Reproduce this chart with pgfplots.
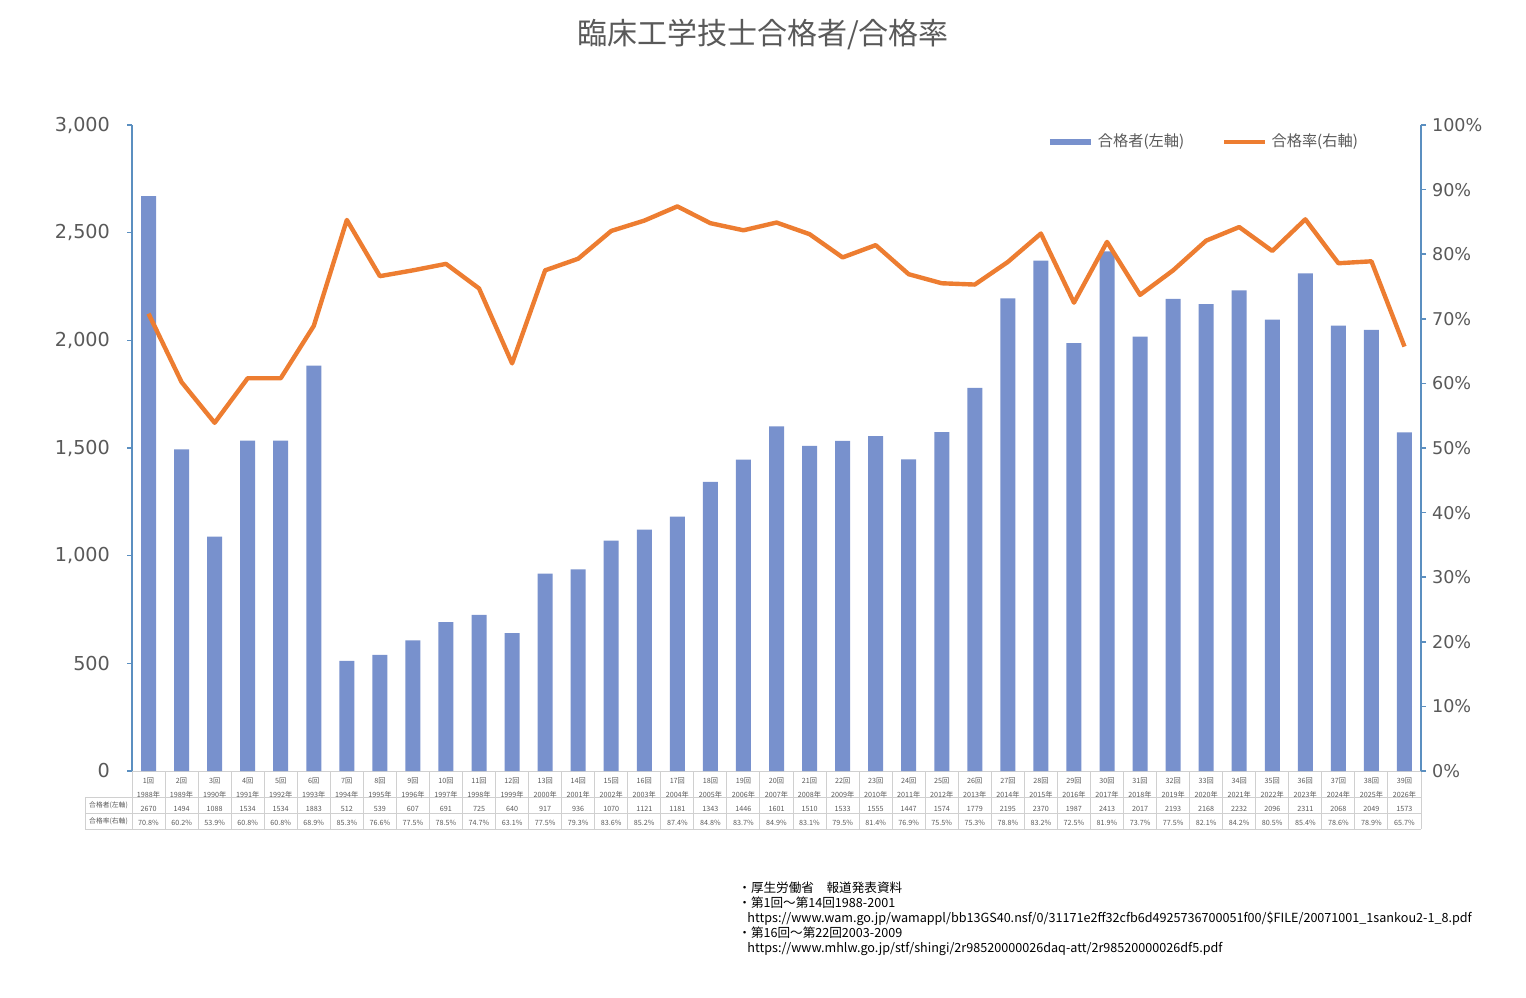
\documentclass[border=0pt]{standalone}
\usepackage{pgfplots}
\pgfplotsset{compat=1.18}
\usepackage{fontspec}
\setmainfont{Noto Sans CJK JP}
\newfontfamily\dejavu{DejaVu Sans}
\definecolor{barblue}{HTML}{7891CD}
\definecolor{lineorange}{HTML}{ED7D31}
\definecolor{axblue}{HTML}{5B8FC0}
\definecolor{txtgrey}{HTML}{595959}
\definecolor{gridgrey}{HTML}{D0D0D0}
\begin{document}
\begin{tikzpicture}
\useasboundingbox (0,0) rectangle (763pt,498.5pt);
% title
\node[font={\fontsize{15}{18}\selectfont}, text=txtgrey] at (381.5pt,481pt) {臨床工学技士合格者/合格率};
% table grid
\foreach \k in {0,...,39} {\draw[gridgrey, line width=0.5pt] (66pt+\k*16.5256pt,113pt) -- (66pt+\k*16.5256pt,84pt);}
\draw[gridgrey, line width=0.5pt] (42.5pt,100pt) -- (710.5pt,100pt);
\draw[gridgrey, line width=0.5pt] (42.5pt,92pt) -- (710.5pt,92pt);
\draw[gridgrey, line width=0.5pt] (42.5pt,84pt) -- (710.5pt,84pt);
\draw[gridgrey, line width=0.5pt] (42.5pt,100pt) -- (42.5pt,84pt);
\node[font={\fontsize{3.4}{4}\selectfont}, text=txtgrey] at (54.25pt,96pt) {合格者(左軸)};
\node[font={\fontsize{3.4}{4}\selectfont}, text=txtgrey] at (54.25pt,88pt) {合格率(右軸)};
% sources
\node[anchor=north west, align=left, inner sep=0pt, text=black, font={\fontsize{6.3}{7.5}\selectfont}] at (369pt,57.5pt) {%
・厚生労働省\quad 報道発表資料\\
・第1回〜第14回1988-2001\\
\hspace*{4.5pt}https://www.wam.go.jp/wamappl/bb13GS40.nsf/0/31171e2ff32cfb6d4925736700051f00/\$FILE/20071001\_1sankou2-1\_8.pdf\\
・第16回〜第22回2003-2009\\
\hspace*{4.5pt}https://www.mhlw.go.jp/stf/shingi/2r98520000026daq-att/2r98520000026df5.pdf};
\begin{axis}[
  at={(66pt,113pt)}, anchor=south west, scale only axis,
  width=644.5pt, height=323pt,
  xmin=-0.5, xmax=38.5, ymin=0, ymax=3000,
  axis y line*=left, axis x line*=bottom,
  x axis line style={draw=gridgrey, line width=0.5pt, -},
  y axis line style={draw=axblue, line width=0.75pt, -},
  ytick={0,500,...,3000},
  ytick style={draw=axblue, line width=0.75pt},
  tick align=outside, major tick length=2.5pt,
  xtick={0,...,38}, xtick style={draw=none},
  /pgf/number format/assume math mode=true,
  /pgf/number format/1000 sep={,},
  yticklabel style={font={\dejavu\fontsize{9.6}{11}\selectfont}, text=txtgrey, xshift=-5pt},
  xticklabel style={font={\fontsize{3.6}{7}\selectfont}, text=txtgrey, align=center, anchor=north, inner sep=0pt, yshift=-0.6pt},
  xticklabels={
{1回\\1988年\\2670\\70.8\%},{2回\\1989年\\1494\\60.2\%},{3回\\1990年\\1088\\53.9\%},{4回\\1991年\\1534\\60.8\%},{5回\\1992年\\1534\\60.8\%},{6回\\1993年\\1883\\68.9\%},{7回\\1994年\\512\\85.3\%},{8回\\1995年\\539\\76.6\%},{9回\\1996年\\607\\77.5\%},{10回\\1997年\\691\\78.5\%},{11回\\1998年\\725\\74.7\%},{12回\\1999年\\640\\63.1\%},{13回\\2000年\\917\\77.5\%},{14回\\2001年\\936\\79.3\%},{15回\\2002年\\1070\\83.6\%},{16回\\2003年\\1121\\85.2\%},{17回\\2004年\\1181\\87.4\%},{18回\\2005年\\1343\\84.8\%},{19回\\2006年\\1446\\83.7\%},{20回\\2007年\\1601\\84.9\%},{21回\\2008年\\1510\\83.1\%},{22回\\2009年\\1533\\79.5\%},{23回\\2010年\\1555\\81.4\%},{24回\\2011年\\1447\\76.9\%},{25回\\2012年\\1574\\75.5\%},{26回\\2013年\\1779\\75.3\%},{27回\\2014年\\2195\\78.8\%},{28回\\2015年\\2370\\83.2\%},{29回\\2016年\\1987\\72.5\%},{30回\\2017年\\2413\\81.9\%},{31回\\2018年\\2017\\73.7\%},{32回\\2019年\\2193\\77.5\%},{33回\\2020年\\2168\\82.1\%},{34回\\2021年\\2232\\84.2\%},{35回\\2022年\\2096\\80.5\%},{36回\\2023年\\2311\\85.4\%},{37回\\2024年\\2068\\78.6\%},{38回\\2025年\\2049\\78.9\%},{39回\\2026年\\1573\\65.7\%}},
  clip=false,
]
\addplot[ybar, bar width=7.5pt, bar shift=0pt, fill=barblue, draw=none] coordinates {
(0,2670)(1,1494)(2,1088)(3,1534)(4,1534)(5,1883)(6,512)(7,539)(8,607)(9,691)
(10,725)(11,640)(12,917)(13,936)(14,1070)(15,1121)(16,1181)(17,1343)(18,1446)(19,1601)
(20,1510)(21,1533)(22,1555)(23,1447)(24,1574)(25,1779)(26,2195)(27,2370)(28,1987)(29,2413)
(30,2017)(31,2193)(32,2168)(33,2232)(34,2096)(35,2311)(36,2068)(37,2049)(38,1573)};
\end{axis}
\begin{axis}[
  at={(66pt,113pt)}, anchor=south west, scale only axis,
  width=644.5pt, height=323pt,
  xmin=-0.5, xmax=38.5, ymin=0, ymax=100,
  axis y line*=right, axis x line=none,
  y axis line style={draw=axblue, line width=0.75pt, -},
  ytick={0,10,...,100},
  ytick style={draw=axblue, line width=0.75pt},
  tick align=outside, major tick length=2.5pt,
  /pgf/number format/assume math mode=true,
  yticklabel={\pgfmathprintnumber{\tick}\%},
  yticklabel style={font={\dejavu\fontsize{8.8}{11}\selectfont}, text=txtgrey, xshift=-0.5pt},
  legend style={at={(0.7095,0.974)}, anchor=west, draw=none, fill=none,
    font={\fontsize{7.6}{9}\selectfont}, text=txtgrey, inner sep=0pt,
    /tikz/every even column/.append style={column sep=17pt}},
  legend columns=2,
  legend image code/.code={\draw[#1] (0pt,0pt) -- (20.5pt,0pt);},
]
\addlegendimage{barblue, line width=3pt}
\addlegendentry{合格者(左軸)}
\addplot[lineorange, line width=2.2pt, line join=round, mark=none] coordinates {
(0,70.8)(1,60.2)(2,53.9)(3,60.8)(4,60.8)(5,68.9)(6,85.3)(7,76.6)(8,77.5)(9,78.5)
(10,74.7)(11,63.1)(12,77.5)(13,79.3)(14,83.6)(15,85.2)(16,87.4)(17,84.8)(18,83.7)(19,84.9)
(20,83.1)(21,79.5)(22,81.4)(23,76.9)(24,75.5)(25,75.3)(26,78.8)(27,83.2)(28,72.5)(29,81.9)
(30,73.7)(31,77.5)(32,82.1)(33,84.2)(34,80.5)(35,85.4)(36,78.6)(37,78.9)(38,65.7)};
\addlegendentry{合格率(右軸)}
\end{axis}
\end{tikzpicture}
\end{document}
